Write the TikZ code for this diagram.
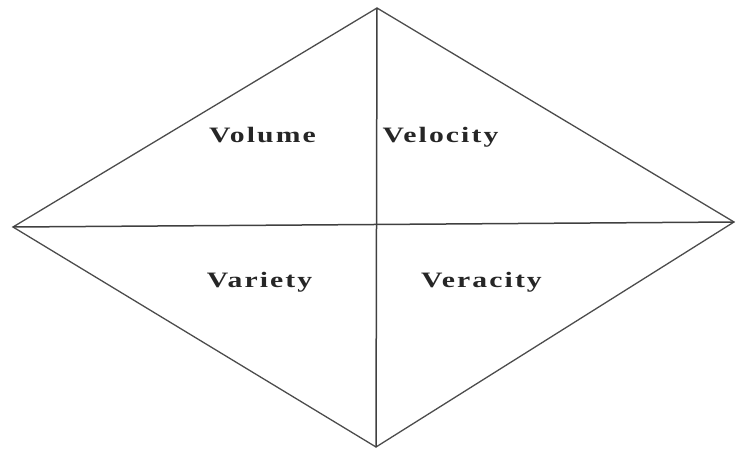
\documentclass[tikz,border=0pt]{standalone}
\usepackage{fontspec}
\setmainfont{Liberation Serif}
\newcommand{\wideword}[1]{\scalebox{1.35}[1]{#1}}
\begin{document}
\begin{tikzpicture}[x=1pt, y=-1pt,
    every node/.style={font=\fontsize{22}{26}\selectfont\bfseries\addfontfeature{LetterSpace=7},
        anchor=base, inner sep=0pt, text=black!85}]
    \useasboundingbox (0,0) rectangle (737,450);
    \coordinate (top) at (377,8);
    \coordinate (bot) at (376,447);
    \coordinate (lft) at (13,227);
    \coordinate (rgt) at (734,222);
    \draw[black!70, line width=1.3pt, line join=miter] (top) -- (rgt) -- (bot) -- (lft) -- cycle;
    \draw[black!75, line width=1.5pt] (lft) -- (rgt);
    \draw[black!75, line width=1.5pt] (top) -- (bot);
    \node (vol) at (262.5,142) {\wideword{Volume}};
    \node (vel) at (440.5,142) {\wideword{Velocity}};
    \node (var) at (259.5,287) {\wideword{Variety}};
    \node (ver) at (481.5,287) {\wideword{Veracity}};
\end{tikzpicture}
\end{document}
